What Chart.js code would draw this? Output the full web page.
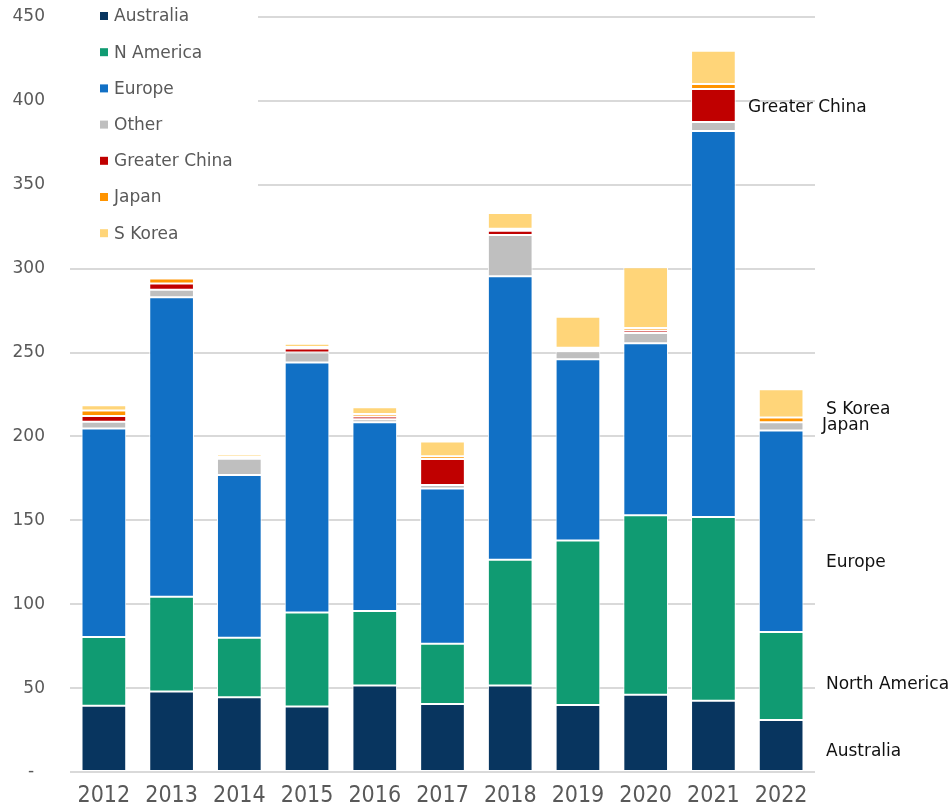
<!DOCTYPE html>
<html>
<head>
<meta charset="utf-8">
<script src="https://cdn.jsdelivr.net/npm/chart.js@4/dist/chart.umd.min.js"></script>
<style>
  html, body { margin: 0; padding: 0; background: #fff; }
  #wrap { width: 949px; height: 808px; }
</style>
</head>
<body>
<div id="wrap"><canvas id="c"></canvas></div>
<script>
// 数据（从图上读出来的估计值）
const years = ['2012', '2013', '2014', '2015', '2016', '2017', '2018', '2019', '2020', '2021', '2022'];
const australia    = [39.5, 48, 44.5, 39, 51.5, 40.5, 51.5, 40, 46, 42.5, 31];
const northAmerica = [41, 56.5, 35.5, 56, 44.5, 36, 75, 98, 107, 109.5, 52.5];
const europe       = [124.3, 178.5, 97, 149, 112.5, 92.5, 169, 108, 102.5, 230, 120];
const other        = [4, 4.5, 9.7, 6, 1.8, 2.1, 24.6, 4.8, 6.1, 5.4, 5];
const greaterChina = [3.4, 3.6, 0.3, 2.4, 1.6, 15.5, 2.5, 0.8, 1.5, 19.7, 0];
const japan        = [3.2, 3, 1, 0.9, 1.5, 1.6, 1.2, 1.2, 1.5, 3, 2.8];
const sKorea       = [3.2, 0, 1.5, 2, 4, 8.8, 9.4, 18.5, 36.2, 19.8, 16.9];

const seriesNames = ['Australia', 'N America', 'Europe', 'Other', 'Greater China', 'Japan', 'S Korea'];
const seriesData = [australia, northAmerica, europe, other, greaterChina, japan, sKorea];
const seriesColors = ['#08355F', '#109B72', '#1170C5', '#BFBFBF', '#C00000', '#FF9400', '#FFD579'];

// 右侧标注（文字 + 对应的 y 值）
const noteLabels = ['Greater China', 'S Korea', 'Japan', 'Europe', 'North America', 'Australia'];
const noteValues = [396, 216, 206.5, 125, 52, 12];

const FONT = '"DejaVu Sans", sans-serif';

// 图内左上角图例（白底，盖住网格线）
const InnerLegendPlugin = {
  id: 'innerLegend',
  afterDraw(chart) {
    const { ctx, chartArea } = chart;
    ctx.save();
    ctx.fillStyle = '#ffffff';
    ctx.fillRect(chartArea.left, 0, 188, 252);
    ctx.font = '17px ' + FONT;
    ctx.textBaseline = 'middle';
    ctx.textAlign = 'left';
    seriesNames.forEach((name, i) => {
      const y = 16 + i * 36.2;
      ctx.fillStyle = seriesColors[i];
      ctx.fillRect(100, y - 4, 8, 8);
      ctx.fillStyle = '#595959';
      ctx.fillText(name, 114, y + 1);
    });
    ctx.restore();
  }
};

// 右侧的系列标注
const SideNotesPlugin = {
  id: 'sideNotes',
  afterDraw(chart) {
    const { ctx } = chart;
    const yScale = chart.scales.y;
    ctx.save();
    ctx.font = '17px ' + FONT;
    ctx.textBaseline = 'middle';
    ctx.textAlign = 'left';
    ctx.fillStyle = '#111111';
    noteLabels.forEach((t, i) => {
      let x = 826;
      if (t === 'Greater China') x = 748;
      if (t === 'Japan') x = 822;
      ctx.fillText(t, x, yScale.getPixelForValue(noteValues[i]));
    });
    ctx.restore();
  }
};

new Chart(document.getElementById('c'), {
  type: 'bar',
  data: {
    labels: years,
    datasets: seriesNames.map((name, i) => ({
      label: name,
      data: seriesData[i],
      backgroundColor: seriesColors[i],
      borderColor: '#ffffff',
      borderWidth: 1,
      borderSkipped: false,
      barPercentage: 0.66,
      categoryPercentage: 1.0
    }))
  },
  options: {
    responsive: true,
    maintainAspectRatio: false,
    animation: false,
    layout: { padding: { top: 0, right: 134, left: 0, bottom: 0 } },
    plugins: {
      legend: { display: false },
      tooltip: { enabled: false }
    },
    scales: {
      x: {
        stacked: true,
        grid: { display: false, drawTicks: false },
        border: { display: false },
        ticks: {
          color: '#595959',
          padding: 10,
          font: { family: '"Liberation Sans Narrow", "DejaVu Sans Condensed", sans-serif', size: 23 }
        },
        afterFit: s => { s.height = 36; }
      },
      y: {
        stacked: true,
        min: 0,
        max: 450,
        grid: { color: '#D9D9D9', lineWidth: 2, drawTicks: false },
        border: { display: false },
        ticks: {
          stepSize: 50,
          color: '#595959',
          padding: 25,
          font: { family: FONT, size: 17 },
          callback: v => v === 0 ? '-  ' : String(v)
        },
        afterFit: s => { s.width = 70; s.paddingTop = 17; }
      }
    }
  },
  plugins: [InnerLegendPlugin, SideNotesPlugin]
});
</script>
</body>
</html>
